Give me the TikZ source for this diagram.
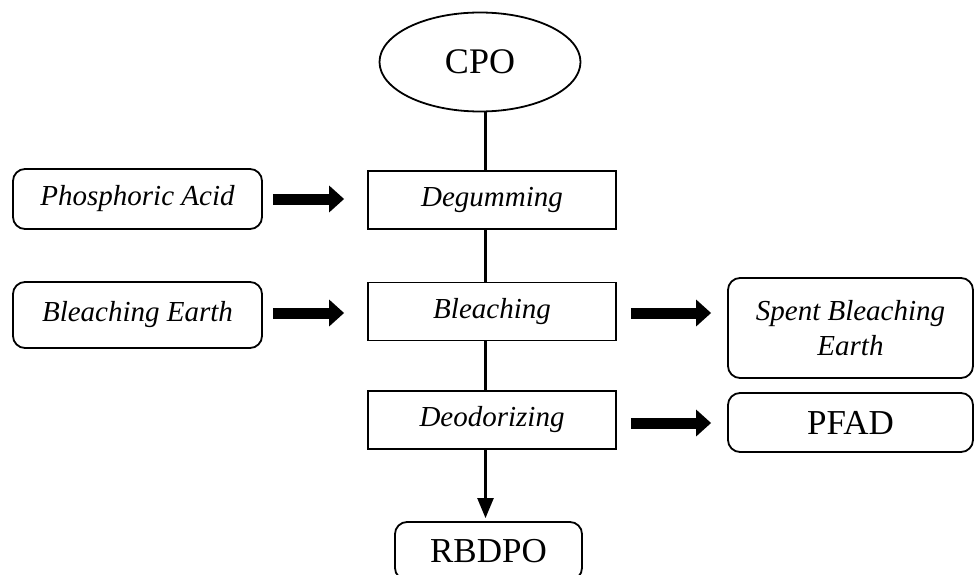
\documentclass[tikz,border=0pt]{standalone}
\usepackage{fontspec}
\setmainfont{Liberation Serif}
\usetikzlibrary{shapes.geometric,arrows.meta}

\tikzset{
  procbox/.style={draw, line width=1.8pt, rectangle, minimum width=248pt, minimum height=58pt,
    inner sep=0pt, font=\fontsize{29}{35}\selectfont\itshape},
  sidebox/.style={draw, line width=1.8pt, rectangle, rounded corners=12pt, minimum width=249pt,
    inner sep=0pt, align=center, font=\fontsize{29}{35}\selectfont\itshape},
  endbox/.style={draw, line width=1.8pt, rectangle, rounded corners=12pt,
    inner sep=0pt, font=\fontsize{35}{40}\selectfont},
  spine/.style={line width=2.4pt},
  blockarrow/.style={line width=11pt, -{Triangle[length=15pt,width=26pt]}},
}

\begin{document}
\begin{tikzpicture}[x=1pt, y=-1pt]
  \useasboundingbox (0,0) rectangle (974,575);

  % feed and main process chain
  \node[ellipse, draw, line width=1.8pt, minimum width=201pt, minimum height=99pt, inner sep=0pt,
        font=\fontsize{36}{40}\selectfont] (cpo) at (480,62) {CPO};
  \node[procbox] (deg) at (492,200) {Degumming};
  \node[procbox] (ble) at (492,311.5) {Bleaching};
  \node[procbox] (deo) at (492,420) {Deodorizing};
  \node[endbox, minimum width=187pt, minimum height=58pt] (rbd) at (488.5,551) {RBDPO};

  % inputs on the left
  \node[sidebox, minimum height=60pt] (pha) at (137.5,199) {Phosphoric Acid};
  \node[sidebox, minimum height=66pt] (bea) at (137.5,315) {Bleaching Earth};

  % by-products on the right
  \node[sidebox, minimum width=245pt, minimum height=100pt] (sbe) at (850.5,328) {Spent Bleaching\\Earth};
  \node[endbox, minimum width=245pt, minimum height=59pt] (pfad) at (850.5,422.5) {PFAD};

  % vertical flow line
  \coordinate (axis) at (485.5,0);
  \draw[spine] (cpo.south -| axis) -- (deg.north -| axis);
  \draw[spine] (deg.south -| axis) -- (ble.north -| axis);
  \draw[spine] (ble.south -| axis) -- (deo.north -| axis);
  \draw[spine, -{Triangle[length=20pt,width=16pt]}, shorten >=3pt]
       (deo.south -| axis) -- (rbd.north -| axis);

  % block arrows
  \draw[blockarrow, shorten <=10pt, shorten >=23pt] (pha.east) -- (pha.east -| deg.west);
  \draw[blockarrow, shorten <=10pt, shorten >=23pt] ([yshift=2pt]bea.east) -- ([yshift=2pt]bea.east -| ble.west);
  \draw[blockarrow, shorten <=14pt, shorten >=16pt] ([yshift=-1.5pt]ble.east) -- ([yshift=-1.5pt]ble.east -| sbe.west);
  \draw[blockarrow, shorten <=14pt, shorten >=16pt] ([yshift=-3pt]deo.east) -- ([yshift=-3pt]deo.east -| pfad.west);
\end{tikzpicture}
\end{document}
